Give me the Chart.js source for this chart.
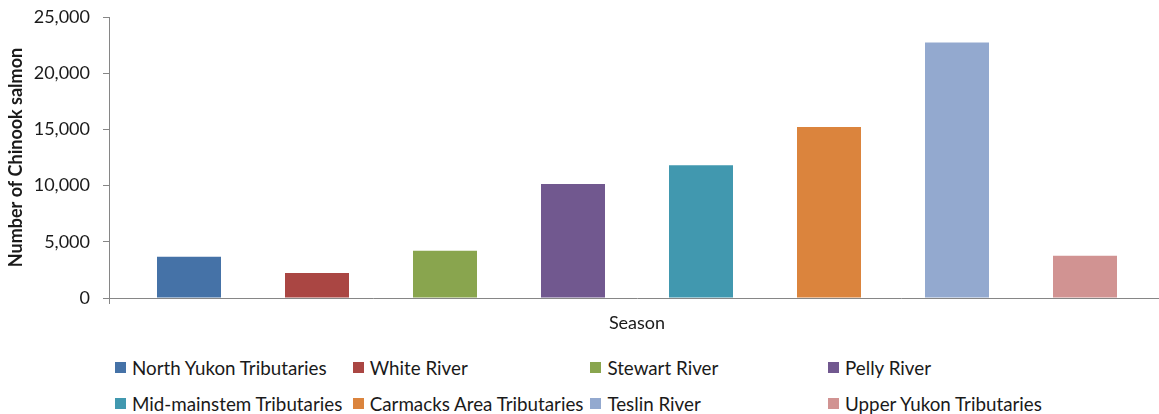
<!DOCTYPE html>
<html lang="en">
<head>
<meta charset="UTF-8">
<title>Chinook salmon by spawning area</title>
<script src="https://cdn.jsdelivr.net/npm/chart.js"></script>
<style>
  html, body { margin: 0; padding: 0; background: #fff; overflow: hidden; }
  #page { position: relative; width: 1159px; height: 414px; overflow: hidden; }
  #chartBox { position: absolute; left: 0; top: 0; }
  #legend {
    position: absolute; left: 115px; top: 349px;
    display: grid; grid-template-columns: repeat(4, 237.7px); grid-auto-rows: 36.3px;
    font: 18.8px Lato, sans-serif; color: #1a1a1a;
  }
  .item { display: flex; align-items: center; white-space: nowrap; }
  .swatch { width: 11px; height: 11px; margin-right: 6px; flex: none; }
</style>
</head>
<body>
<div id="page">
  <div id="chartBox"><canvas id="myChart" width="1165" height="340"></canvas></div>
  <div id="legend"></div>
</div>

<script>
// chart data
const categories = [''];
const seriesNames = [
    'North Yukon Tributaries', 'White River', 'Stewart River', 'Pelly River',
    'Mid-mainstem Tributaries', 'Carmacks Area Tributaries', 'Teslin River', 'Upper Yukon Tributaries'
];
const seriesValues = [3670, 2220, 4200, 10150, 11810, 15210, 22730, 3760];
const yTicks = [0, 5000, 10000, 15000, 20000, 25000];

// excel 2007 palette
const palette = ['#4572A7', '#AA4643', '#89A54E', '#71588F', '#4198AF', '#DB843D', '#93A9CF', '#D19392'];

Chart.defaults.font.family = 'Lato, sans-serif';

// legend laid out as a grid below the chart, like the original
const htmlLegend = {
    id: 'htmlLegend',
    afterUpdate(chart) {
        const box = document.getElementById('legend');
        box.innerHTML = '';
        const items = chart.options.plugins.legend.labels.generateLabels(chart);
        items.forEach(item => {
            const div = document.createElement('div');
            div.className = 'item';
            const sw = document.createElement('span');
            sw.className = 'swatch';
            sw.style.background = item.fillStyle;
            const txt = document.createElement('span');
            txt.textContent = item.text;
            div.appendChild(sw);
            div.appendChild(txt);
            box.appendChild(div);
        });
    }
};

const axisGray = '#868686';
const textColor = '#1a1a1a';

const ctx = document.getElementById('myChart').getContext('2d');
const myChart = new Chart(ctx, {
    type: 'bar',
    data: {
        labels: categories,
        datasets: seriesNames.map((name, i) => ({
            label: name,
            data: [seriesValues[i]],
            backgroundColor: palette[i],
            borderWidth: 0,
            barPercentage: 0.5,
            categoryPercentage: 1024 / 1056
        }))
    },
    options: {
        responsive: false,
        animation: false,
        layout: { padding: { top: 17, right: 0, bottom: 0, left: 0 } },
        plugins: {
            legend: { display: false },
            tooltip: { enabled: false }
        },
        scales: {
            x: {
                ticks: { display: false },
                grid: { drawOnChartArea: false, drawTicks: true, tickLength: 6, color: axisGray },
                border: { color: axisGray, width: 1 },
                title: {
                    display: true, text: 'Season', color: textColor,
                    font: { size: 18 }, padding: { top: 0, bottom: 6 }
                },
                afterFit(scale) { scale.height = 42; }
            },
            y: {
                min: 0,
                max: 25000,
                afterBuildTicks(scale) { scale.ticks = yTicks.map(v => ({ value: v })); },
                ticks: {
                    padding: 13, color: textColor, font: { size: 18 },
                    callback: v => v.toLocaleString('en-US')
                },
                grid: { drawOnChartArea: false, drawTicks: true, tickLength: 6, color: axisGray },
                border: { color: axisGray, width: 1 },
                title: {
                    display: true, text: 'Number of Chinook salmon', color: textColor,
                    font: { size: 18, weight: 'bold' }, padding: { top: 5, bottom: 0 }
                },
                afterFit(scale) {
                    scale.width = 109;
                    scale.paddingTop = 0;
                    scale.paddingBottom = 0;
                }
            }
        }
    },
    plugins: [htmlLegend]
});
</script>
</body>
</html>
